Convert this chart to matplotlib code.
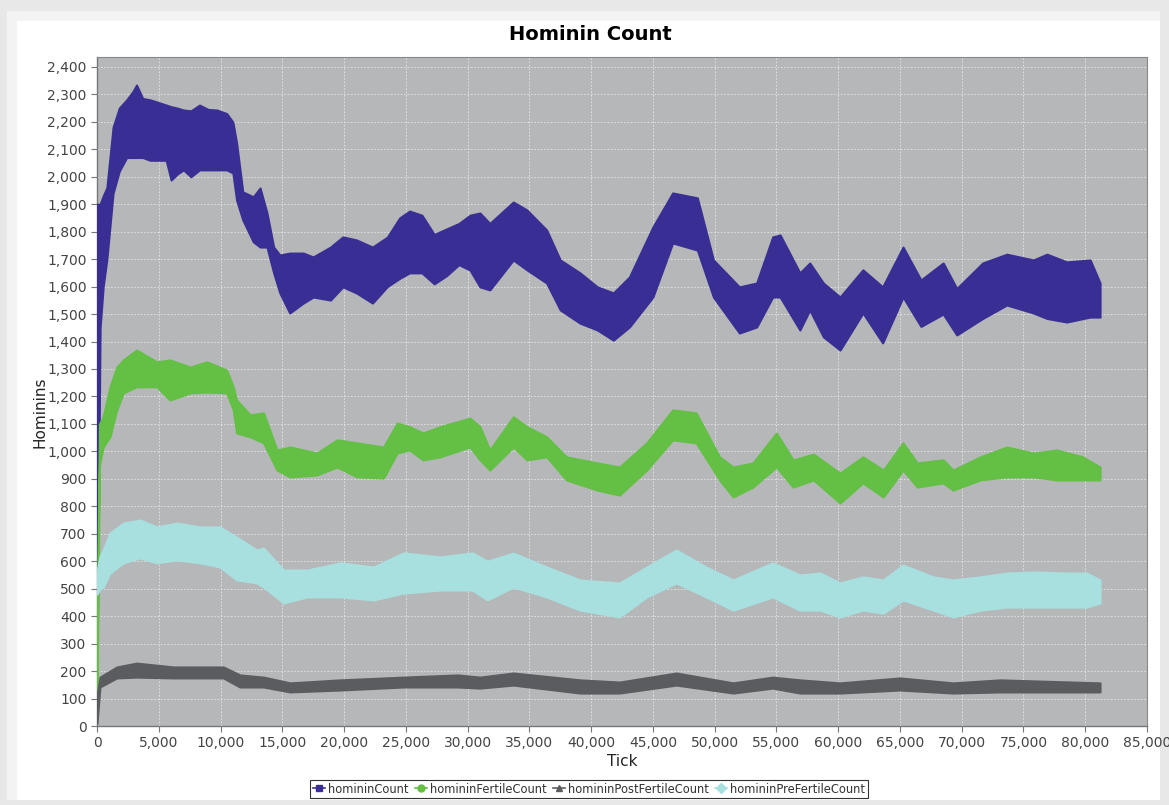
import matplotlib
matplotlib.use("Agg")
import matplotlib.pyplot as plt
from matplotlib.patches import Rectangle
from matplotlib.lines import Line2D
from matplotlib.ticker import FuncFormatter, MultipleLocator

# envelope of each series (lower / upper edge of the dense band)
count_ticks = [0, 250, 500, 800, 1300, 1800, 2400, 2900, 3200, 3700, 4300, 5000, 5600, 6000, 6500,
               7000, 7600, 8300, 9000, 9700, 10500, 11000, 11300, 11800, 12650, 13200, 13760, 14300,
               14800, 15600, 16700, 17500, 18900, 19900, 21000, 22300, 23500, 24500, 25300, 26300,
               27300, 28300, 29300, 30200, 31000, 31800, 33700, 34800, 36400, 37500, 39100, 40500,
               41800, 43100, 45000, 46600, 48600, 49900, 52000, 53400, 54700, 55300, 56900, 57700,
               58800, 60150, 62000, 63600, 65250, 66700, 68500, 69600, 71700, 73650, 75800, 76900,
               78500, 80400, 81200]
count_low = [200, 1450, 1600, 1700, 1940, 2020, 2070, 2070, 2070, 2070, 2060, 2060, 2060, 1988, 2010,
             2025, 2000, 2025, 2025, 2025, 2025, 2014, 1915, 1843, 1763, 1744, 1744, 1650,
             1577, 1504, 1540, 1562, 1551, 1599, 1577, 1540, 1600, 1630, 1650, 1650,
             1610, 1640, 1680, 1660, 1599, 1588, 1697, 1661, 1613, 1515, 1467, 1442,
             1405, 1453, 1562, 1759, 1733, 1562, 1431, 1453, 1562, 1562, 1442, 1515,
             1417, 1369, 1504, 1395, 1562, 1455, 1500, 1424, 1484, 1533, 1504, 1484,
             1471, 1489, 1489]
count_high = [1900, 1900, 1930, 1960, 2180, 2250, 2280, 2310, 2334, 2285, 2280, 2270, 2261, 2255, 2250,
              2243, 2240, 2261, 2245, 2243, 2230, 2199, 2123, 1945, 1927, 1959, 1868, 1744,
              1715, 1722, 1722, 1708, 1744, 1781, 1770, 1744, 1780, 1850, 1875, 1860,
              1790, 1810, 1830, 1860, 1868, 1830, 1908, 1879, 1806, 1697, 1650, 1599,
              1577, 1635, 1817, 1941, 1923, 1697, 1599, 1613, 1781, 1788, 1650, 1686,
              1613, 1562, 1661, 1599, 1744, 1624, 1686, 1593, 1686, 1718, 1697, 1718,
              1690, 1697, 1613]

fertile_ticks = [0, 200, 500, 1050, 1600, 2130, 3200, 4850, 5900, 7550, 8900, 10500, 11030, 11300,
                 12400, 13480, 14570, 15630, 17800, 19430, 21050, 23200, 24290, 25300, 26400, 27770,
                 30200, 31000, 31800, 33700, 34800, 36400, 38000, 40500, 42300, 44500, 46600, 48500,
                 50400, 51500, 53100, 55000, 56350, 58000, 60150, 62000, 63650, 65250, 66400, 68500,
                 69300, 71500, 73650, 75800, 77700, 79800, 81200]
fertile_low = [110, 950, 1016, 1053, 1151, 1213, 1235, 1235, 1187, 1213, 1216, 1213, 1151, 1067,
               1053, 1031, 932, 907, 914, 943, 907, 903, 994, 1005, 969, 980,
               1016, 969, 932, 1016, 969, 980, 896, 859, 841, 932, 1042, 1031,
               896, 834, 870, 943, 870, 896, 812, 885, 834, 932, 870, 885,
               859, 896, 907, 907, 896, 896, 896]
fertile_high = [300, 1100, 1126, 1235, 1307, 1333, 1369, 1326, 1333, 1307, 1326, 1296, 1235, 1187,
                1133, 1140, 1005, 1016, 994, 1042, 1031, 1016, 1103, 1090, 1067, 1090,
                1121, 1090, 1005, 1126, 1090, 1053, 980, 958, 943, 1031, 1151, 1140,
                980, 943, 958, 1067, 969, 990, 921, 980, 932, 1031, 958, 969,
                932, 980, 1016, 994, 1005, 980, 943]

post_ticks = [0, 240, 1600, 3200, 6200, 10230, 11570, 13480, 15630, 19700, 24800, 29200, 31000,
              33700, 39100, 42300, 46900, 51500, 54700, 56900, 60150, 65000, 69300, 73100, 81200]
post_low = [10, 142, 175, 178, 175, 175, 142, 142, 124, 131, 142, 142, 138,
            149, 120, 120, 149, 120, 138, 120, 120, 131, 120, 124, 124]
post_high = [110, 178, 215, 229, 215, 215, 186, 178, 157, 168, 178, 186, 178,
             193, 168, 160, 193, 157, 178, 168, 157, 175, 157, 168, 157]

pre_ticks = [0, 250, 500, 1050, 2130, 3480, 4850, 6470, 8340, 9950, 11300, 12950, 13480, 15100,
             17000, 19700, 22400, 24800, 27770, 30400, 31600, 33700, 36400, 39100, 42300, 44500,
             46900, 49300, 51500, 54700, 56900, 58550, 60150, 62000, 63650, 65250, 67700, 69300,
             71500, 73650, 75800, 78500, 80100, 81200]
pre_low = [480, 500, 506, 557, 594, 612, 594, 605, 594, 579, 532, 521, 506, 448,
           470, 470, 459, 484, 495, 495, 459, 506, 470, 422, 397, 470,
           521, 470, 422, 470, 422, 422, 397, 422, 411, 459, 422, 397,
           422, 433, 433, 433, 433, 448]
pre_high = [560, 620, 641, 703, 739, 750, 725, 739, 725, 725, 688, 641, 648, 568,
            568, 594, 579, 630, 616, 630, 600, 630, 579, 532, 521, 579,
            641, 579, 532, 594, 550, 557, 521, 543, 532, 586, 543, 532,
            543, 557, 561, 557, 557, 532]

names = ["homininCount", "homininFertileCount", "homininPostFertileCount", "homininPreFertileCount"]
colors = ["#392e93", "#64bf45", "#5a5c5f", "#a8dfdf"]
markers = ["s", "o", "^", "D"]

fig = plt.figure(figsize=(11.69, 8.05), dpi=100)
fig.patch.set_facecolor("#e8e8e8")
fig.add_artist(Rectangle((7 / 1169, 5 / 805), 1153 / 1169, 789 / 805, transform=fig.transFigure,
                         facecolor="#f3f3f3", edgecolor="none", zorder=-2))
fig.add_artist(Rectangle((17 / 1169, 5 / 805), 1143 / 1169, 779 / 805, transform=fig.transFigure,
                         facecolor="white", edgecolor="none", zorder=-1))

ax = fig.add_axes([97 / 1169, 79 / 805, 1050 / 1169, 669 / 805])
ax.set_facecolor("#b5b7b9")

series = [(count_ticks, count_low, count_high),
          (fertile_ticks, fertile_low, fertile_high),
          (post_ticks, post_low, post_high),
          (pre_ticks, pre_low, pre_high)]
for (t, lo, hi), c in zip(series, colors):
    ax.fill_between(t, lo, hi, color=c, linewidth=1.5, edgecolor=c, zorder=3)

ax.set_xlim(0, 85000)
ax.set_ylim(0, 2436)
ax.xaxis.set_major_locator(MultipleLocator(5000))
ax.yaxis.set_major_locator(MultipleLocator(100))
fmt = FuncFormatter(lambda v, p: f"{int(v):,}")
ax.xaxis.set_major_formatter(fmt)
ax.yaxis.set_major_formatter(fmt)
ax.grid(True, color="#e6e6e6", linestyle=(0, (2, 2)), linewidth=0.6, zorder=1)
ax.set_axisbelow(True)
ax.tick_params(direction="out", length=4, width=0.8, color="#777777",
               labelcolor="#444444", labelsize=10)
for side in ["top", "right"]:
    ax.spines[side].set_color("#888888")
    ax.spines[side].set_linewidth(0.8)
for side in ["left", "bottom"]:
    ax.spines[side].set_color("#777777")
    ax.spines[side].set_linewidth(1.0)

fig.text(590 / 1169, 1 - 35 / 805, "Hominin Count", ha="center", va="center",
         fontsize=14, fontweight="bold")
fig.text(40 / 1169, 1 - 412 / 805, "Hominins", rotation=90, ha="center", va="center",
         fontsize=11, color="#222222")
fig.text(622 / 1169, 1 - 761 / 805, "Tick", ha="center", va="center",
         fontsize=11, color="#222222")

handles = [Line2D([0], [0], color=c, marker=m, markersize=5, linewidth=1.2)
           for c, m in zip(colors, markers)]
leg = fig.legend(handles, names, loc="center", bbox_to_anchor=(589 / 1169, 16 / 805), ncol=4,
                 fontsize=8.3, frameon=True, fancybox=False, edgecolor="black",
                 handlelength=1.1, handletextpad=0.25, columnspacing=0.5, borderpad=0.25)
leg.get_frame().set_linewidth(0.8)
for txt in leg.get_texts():
    txt.set_color("#333333")

fig.savefig("out.png", dpi=100, facecolor=fig.get_facecolor())
